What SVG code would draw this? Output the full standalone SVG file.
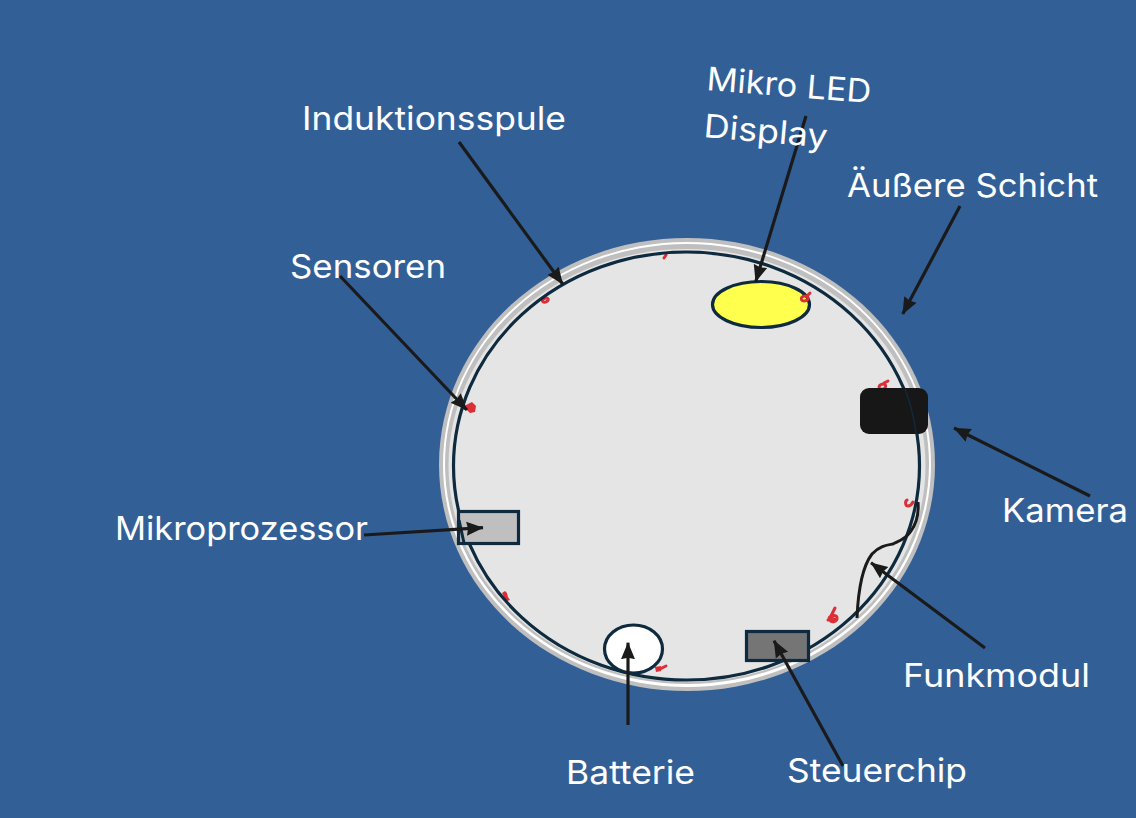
<svg xmlns="http://www.w3.org/2000/svg" width="1136" height="818" viewBox="0 0 1136 818">
<defs>
<marker id="ah" markerUnits="userSpaceOnUse" markerWidth="18" markerHeight="16" viewBox="0 0 18 16" refX="16.500" refY="8" orient="auto"><path d="M0 1L17 8L0 15L1.500 8Z" fill="#1a1a1a"/></marker>
</defs>
<style>
.l{font-family:"Inter","Open Sans",sans-serif;font-size:32.500px;fill:#fff}
.c{fill:none;stroke:#1a1a1a;stroke-width:3.200px;marker-end:url(#ah)}
.n{stroke:#0e2a3e;stroke-width:3.200px}
.r{fill:none;stroke:#dc2e36;stroke-width:3px;stroke-linecap:round}
.f{fill:#dc2e36}
</style>
<rect width="1136" height="818" fill="#335f97"/>
<g id="outer-layer">
<ellipse cx="687" cy="464.5" rx="248" ry="226.500" fill="#bfbfbf"/>
<ellipse cx="687" cy="464.500" rx="244" ry="222.500" fill="#fff"/>
<ellipse cx="687" cy="464" rx="242" ry="220" fill="#bfbfbf"/>
<ellipse cx="687" cy="465.500" rx="238.500" ry="216.500" fill="#e5e5e5"/>
</g>
<g id="sensors">
<path class="r" d="M546 298a3 2 -20 1 0 .1 0ZM664 258l2-3"/>
<path class="f" d="M466 405l6-3 4 4-1 6-5 1-3-3-4 0Z"/>
<path class="r" d="M883 384a3.500 2.500 -20 1 0 .1 0ZM884 383l4-2M907 500c-2 1-2 6 1 6s4-2 5-4"/>
<path class="r" d="M828 620l9-1M835 608l-4 8a4 3 0 1 0 6 2c0-3-3-3-5-1"/>
<path class="f" d="M502 593l3-2 2 2 1 4 2 3-3 1-3-4ZM655 667l6-1 0 5-5 1Z"/>
<path class="r" d="M660 669l6-3"/>
</g>
<g id="induction-coil"><ellipse cx="686.500" cy="466" rx="233" ry="214" fill="none" stroke="#0e2a3e" stroke-width="3.200"/></g>
<g id="display"><ellipse class="n" cx="761" cy="304.500" rx="48.500" ry="23" fill="#ffff4d"/><path class="r" d="M805 296a3.500 2.500 -10 1 0 .1 0ZM808 295l2-2"/></g>
<g id="camera"><rect x="860" y="388" width="68" height="46" rx="9" fill="#171717"/><path d="M905 389c5 13 9 27 11 45" fill="none" stroke="#0e2a3e" stroke-width="1.500"/></g>
<g id="microprocessor"><rect class="n" x="458.500" y="511.500" width="60" height="32" fill="#bfbfbf"/><path d="M459 520c2 9 3 14 5 23" fill="none" stroke="#0e2a3e" stroke-width="3"/></g>
<g id="battery"><ellipse class="n" cx="633.500" cy="649" rx="29" ry="24" fill="#fff"/></g>
<g id="control-chip"><rect class="n" x="746.500" y="631.500" width="62" height="29" fill="#757575"/></g>
<g id="radio-module"><path d="M918 502c1 12-2 22-7 29-5 8-12 10-18 13-6 1-14 2-21 10-10 13-14 40-15 64" fill="none" stroke="#1a1a1a" stroke-width="3"/></g>
<g id="connectors">
<path class="c" d="M459 142L562.700 284"/>
<path class="c" d="M806 116L755.700 281.700"/>
<path class="c" d="M960 206L902.700 314"/>
<path class="c" d="M340 276L467 410"/>
<path class="c" d="M1090 496L954 428"/>
<path class="c" d="M364 535L483 527.700"/>
<path class="c" d="M628 725L628 642.700"/>
<path class="c" d="M843 766L774 640.700"/>
<path class="c" d="M985 648L871 562.700"/>
</g>
<g id="labels">
<text class="l" x="302" y="129.500" textLength="264" lengthAdjust="spacingAndGlyphs">Induktionsspule</text>
<text class="l" x="290" y="277.500" textLength="156" lengthAdjust="spacingAndGlyphs">Sensoren</text>
<text class="l" x="847" y="197" textLength="251" lengthAdjust="spacingAndGlyphs">Äußere Schicht</text>
<text class="l" x="115" y="539.500" textLength="253" lengthAdjust="spacingAndGlyphs">Mikroprozessor</text>
<text class="l" x="1002" y="521.500" textLength="126" lengthAdjust="spacingAndGlyphs">Kamera</text>
<text class="l" x="903" y="686.500" textLength="187" lengthAdjust="spacingAndGlyphs">Funkmodul</text>
<text class="l" x="566" y="783.500" textLength="129" lengthAdjust="spacingAndGlyphs">Batterie</text>
<text class="l" x="787" y="781.500" textLength="180" lengthAdjust="spacingAndGlyphs">Steuerchip</text>
<text class="l" transform="translate(706 90) rotate(4.500)" textLength="165" lengthAdjust="spacingAndGlyphs">Mikro LED</text>
<text class="l" transform="translate(703 137) rotate(5)" textLength="124" lengthAdjust="spacingAndGlyphs">Display</text>
</g>
</svg>
